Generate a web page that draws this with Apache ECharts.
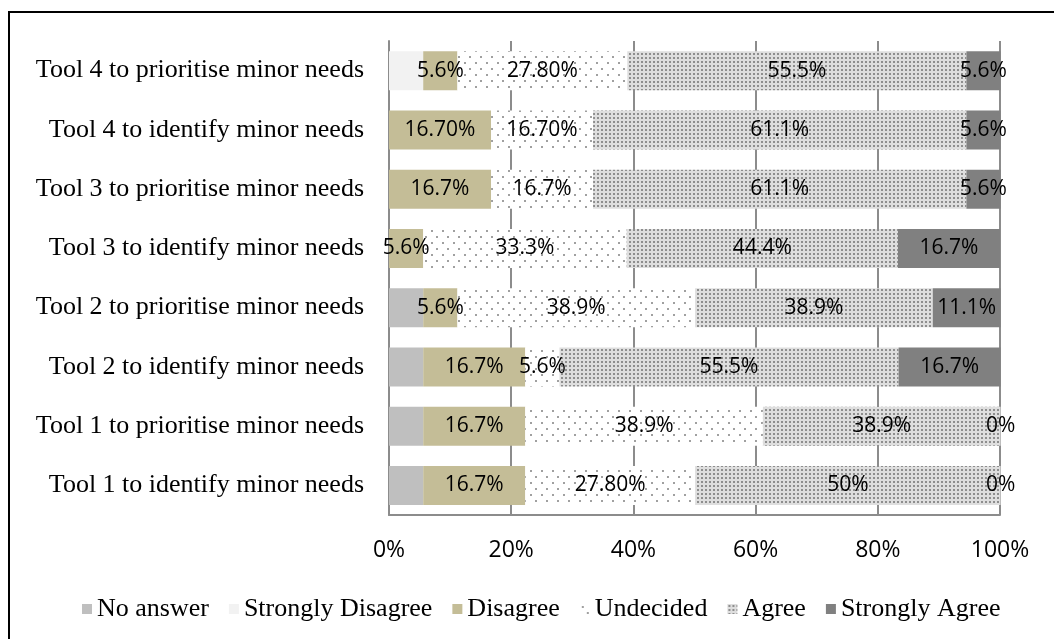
<!DOCTYPE html>
<html>
<head>
<meta charset="utf-8">
<script src="https://cdn.jsdelivr.net/npm/echarts@6/dist/echarts.min.js"></script>
<style>
html,body{margin:0;padding:0;background:#fff;}
#chart{width:1054px;height:639px;}
</style>
</head>
<body>
<div id="chart"></div>
<script>
const categories = [
  "Tool 4 to prioritise minor needs",
  "Tool 4 to identify minor needs",
  "Tool 3 to prioritise minor needs",
  "Tool 3 to identify minor needs",
  "Tool 2 to prioritise minor needs",
  "Tool 2 to identify minor needs",
  "Tool 1 to prioritise minor needs",
  "Tool 1 to identify minor needs"
];
const noAnswer         = [0, 0, 0, 0, 5.6, 5.6, 5.6, 5.6];
const stronglyDisagree = [5.6, 0, 0, 0, 0, 0, 0, 0];
const disagree         = [5.6, 16.7, 16.7, 5.6, 5.6, 16.7, 16.7, 16.7];
const undecided        = [27.8, 16.7, 16.7, 33.3, 38.9, 5.6, 38.9, 27.8];
const agree            = [55.5, 61.1, 61.1, 44.4, 38.9, 55.5, 38.9, 50];
const stronglyAgree    = [5.6, 5.6, 5.6, 16.7, 11.1, 16.7, 0, 0];

const disagreeLabels      = ["5.6%", "16.70%", "16.7%", "5.6%", "5.6%", "16.7%", "16.7%", "16.7%"];
const undecidedLabels     = ["27.80%", "16.70%", "16.7%", "33.3%", "38.9%", "5.6%", "38.9%", "27.80%"];
const agreeLabels         = ["55.5%", "61.1%", "61.1%", "44.4%", "38.9%", "55.5%", "38.9%", "50%"];
const stronglyAgreeLabels = ["5.6%", "5.6%", "5.6%", "16.7%", "11.1%", "16.7%", "0%", "0%"];

const tickLabels = ["0%", "20%", "40%", "60%", "80%", "100%"];
const seriesNames = ["No answer", "Strongly Disagree", "Disagree", "Undecided", "Agree", "Strongly Agree"];

function makePattern(w, h, bg, dots, dotColor, size) {
  const c = document.createElement('canvas');
  c.width = w; c.height = h;
  const ctx = c.getContext('2d');
  ctx.fillStyle = bg;
  ctx.fillRect(0, 0, w, h);
  ctx.fillStyle = dotColor;
  dots.forEach(d => ctx.fillRect(d[0], d[1], size, size));
  return c;
}
const undecidedPat = makePattern(11, 12, '#ffffff', [[2, 2], [7, 8]], '#a0a0a0', 2);
const agreePat = makePattern(4, 4, '#dedede', [[1, 1]], '#8e8e8e', 2);

const labelFont = { fontFamily: 'Open Sans', fontSize: 21, color: '#000' };

function mk(name, data, color, labels) {
  return {
    name: name,
    type: 'bar',
    stack: 'total',
    barWidth: 39,
    clip: false,
    data: data,
    itemStyle: { color: color },
    label: labels ? Object.assign({
      show: true,
      position: 'inside',
      formatter: p => labels[p.dataIndex]
    }, labelFont) : { show: false },
    emphasis: { disabled: true }
  };
}

const chart = echarts.init(document.getElementById('chart'), null, { renderer: 'canvas' });
chart.setOption({
  animation: false,
  backgroundColor: '#fff',
  grid: { left: 389, right: 54, top: 41, bottom: 124, containLabel: false },
  xAxis: {
    type: 'value', min: 0, max: 100, interval: 20,
    axisLine: { show: true, lineStyle: { color: '#8c8c8c', width: 2 } },
    axisTick: { show: false },
    splitLine: { show: true, lineStyle: { color: '#8c8c8c', width: 2 } },
    axisLabel: {
      margin: 24,
      formatter: (v) => tickLabels[Math.round(v / 20)],
      fontFamily: 'Open Sans', fontSize: 23, color: '#000'
    }
  },
  yAxis: {
    type: 'category', inverse: true, data: categories,
    axisLine: { show: true, lineStyle: { color: '#8c8c8c', width: 2 } },
    axisTick: { show: false },
    axisLabel: { margin: 25, fontFamily: 'Liberation Serif', fontSize: 26, color: '#000', padding: [3, 0, 0, 0] }
  },
  legend: {
    data: seriesNames,
    left: 77, top: 591,
    itemWidth: 10, itemHeight: 10, itemGap: 20,
    icon: 'rect',
    textStyle: { fontFamily: 'Liberation Serif', fontSize: 26, color: '#000' }
  },
  graphic: [{
    type: 'rect',
    shape: { x: 9, y: 12, width: 1080, height: 660 },
    style: { fill: 'none', stroke: '#000', lineWidth: 2 },
    silent: true
  }],
  series: [
    mk(seriesNames[0], noAnswer, '#bfbfbf', null),
    mk(seriesNames[1], stronglyDisagree, '#f2f2f2', null),
    mk(seriesNames[2], disagree, '#c4bd97', disagreeLabels),
    mk(seriesNames[3], undecided, { image: undecidedPat, repeat: 'repeat' }, undecidedLabels),
    mk(seriesNames[4], agree, { image: agreePat, repeat: 'repeat' }, agreeLabels),
    mk(seriesNames[5], stronglyAgree, '#808080', stronglyAgreeLabels)
  ]
});
</script>
</body>
</html>
